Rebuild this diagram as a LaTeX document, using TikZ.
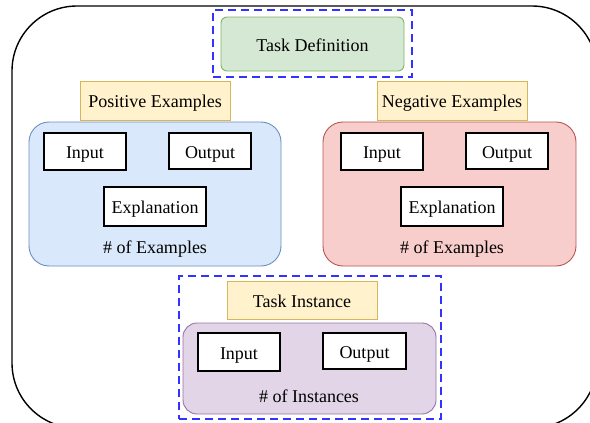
\documentclass[tikz,border=0pt]{standalone}
\usepackage{fontspec}
\setmainfont{Liberation Serif}
\definecolor{defgreen}{HTML}{D5E8D4}
\definecolor{defgreenline}{HTML}{82B366}
\definecolor{labyellow}{HTML}{FFF2CC}
\definecolor{labyellowline}{HTML}{D6B656}
\definecolor{posblue}{HTML}{DAE8FC}
\definecolor{posblueline}{HTML}{6C8EBF}
\definecolor{negred}{HTML}{F8CECC}
\definecolor{negredline}{HTML}{B85450}
\definecolor{instpurple}{HTML}{E1D5E7}
\definecolor{instpurpleline}{HTML}{9673A6}
\definecolor{dashblue}{HTML}{3333FF}

\begin{document}
\begin{tikzpicture}[x=1pt,y=-1pt,
    every node/.style={inner sep=0pt,text height=14pt,text depth=0pt,font=\fontsize{18}{21}\selectfont},
    field/.style={draw=black,line width=1.4pt,fill=white,minimum height=37pt,minimum width=82pt},
    label/.style={draw=labyellowline,fill=labyellow,line width=0.9pt,minimum width=150pt,minimum height=39pt},
    group/.style={line width=0.9pt,rounded corners=20pt,minimum width=252pt,minimum height=144pt},
    focus/.style={draw=dashblue,line width=2.5pt,dash pattern=on 8pt off 5pt}]
      \useasboundingbox (0,0) rectangle (590,423);
      \clip (0,0) rectangle (590,423);
      \draw[line width=1.4pt,rounded corners=65pt] (12,6) rectangle (597,428);
      % task definition
      \node (defbox) [focus,minimum width=199pt,minimum height=67pt] at (312.5,43.5) {};
      \node (taskdef) [draw=defgreenline,fill=defgreen,line width=0.9pt,rounded corners=6pt,
        minimum width=183pt,minimum height=54pt] at (312.5,44) {Task Definition};
      % positive examples
      \node (poslabel) [label] at (155,100.5) {Positive Examples};
      \node (posbox) [group,draw=posblueline,fill=posblue] at (155,194) {};
      \node (posin) [field] at (85,151.5) {Input};
      \node (posout) [field,minimum height=36pt] at (210,151) {Output};
      \node (posexp) [field,minimum width=102pt,minimum height=39pt] at (155,206.5) {Explanation};
      \node (poscount) at (155,246) {\# of Examples};
      % negative examples
      \node (neglabel) [label] at (452,100.5) {Negative Examples};
      \node (negbox) [group,draw=negredline,fill=negred,minimum width=253pt] at (449.5,194) {};
      \node (negin) [field] at (382,151.5) {Input};
      \node (negout) [field,minimum height=36pt] at (507,151) {Output};
      \node (negexp) [field,minimum width=102pt,minimum height=39pt] at (452,206.5) {Explanation};
      \node (negcount) at (452,246) {\# of Examples};
      % task instance
      \node (instframe) [focus,minimum width=262pt,minimum height=143pt] at (310,347.5) {};
      \node (instlabel) [label,minimum height=38pt] at (302,300) {Task Instance};
      \node (instbox) [group,draw=instpurpleline,fill=instpurple,rounded corners=14pt,
        minimum width=253pt,minimum height=91pt] at (309.5,368.5) {};
      \node (instin) [field,minimum height=38pt] at (239,352) {Input};
      \node (instout) [field,minimum width=83pt,minimum height=36pt] at (364.5,351) {Output};
      \node (instcount) at (309,395) {\# of Instances};
\end{tikzpicture}
\end{document}
